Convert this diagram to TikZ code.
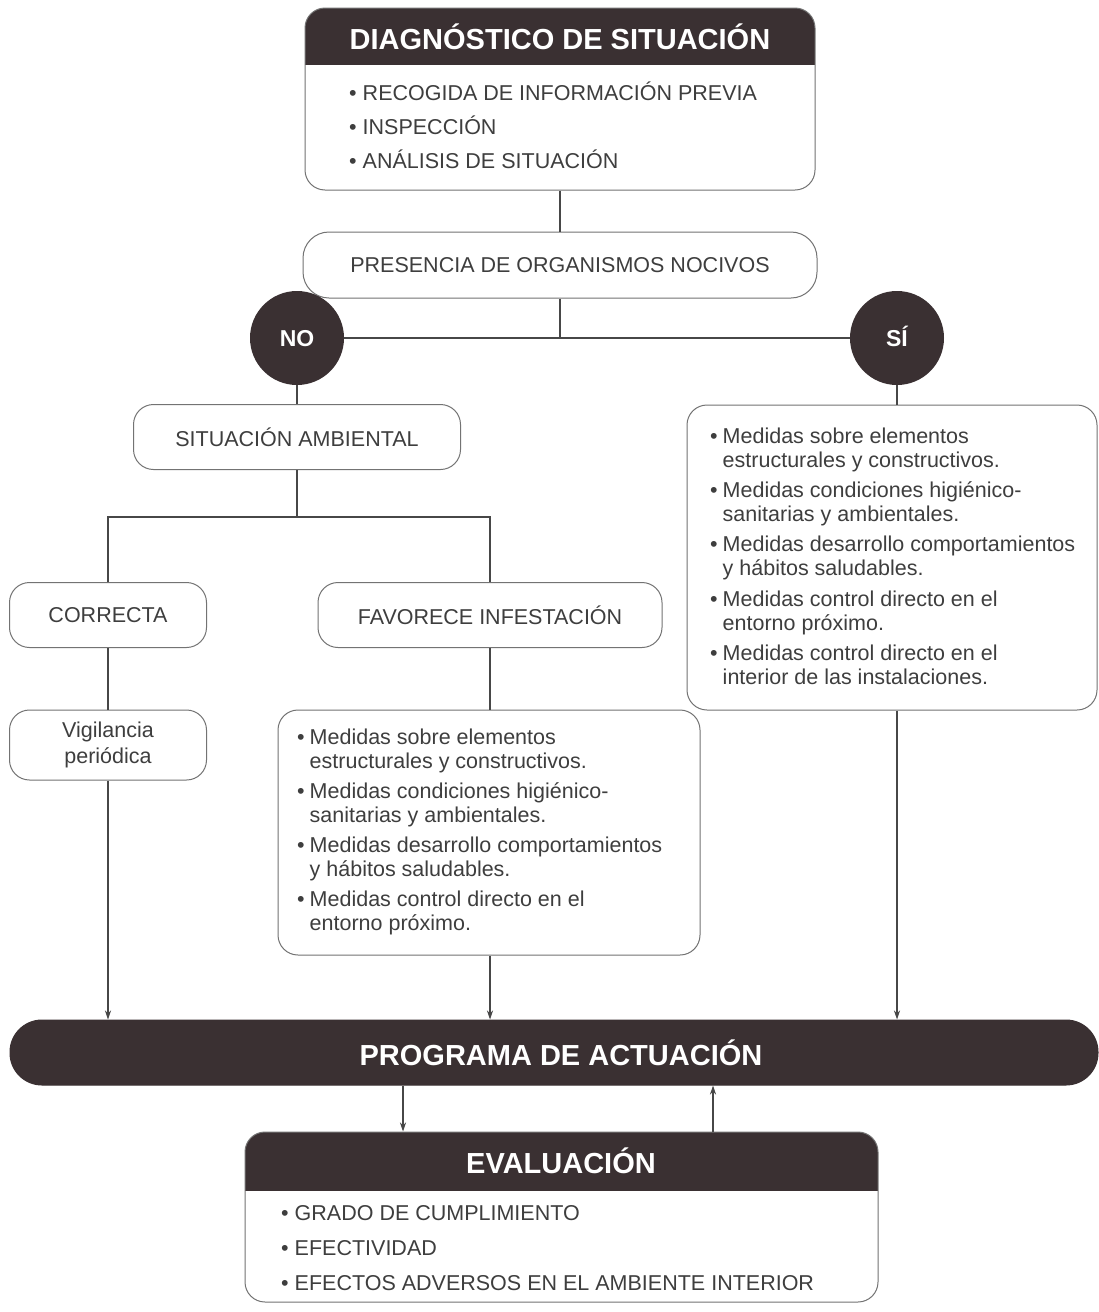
\documentclass[tikz,border=0pt]{standalone}
\usepackage{fontspec}
\setmainfont{Liberation Sans}
\usetikzlibrary{arrows.meta}
\definecolor{dark}{RGB}{58,48,50}
\definecolor{txt}{RGB}{62,62,62}
\definecolor{edge}{RGB}{115,115,115}
\begin{document}
\begin{tikzpicture}[x=1pt,y=-1pt,
  box/.style={draw=edge, line width=1pt, rounded corners=20pt, inner sep=0pt, text=txt,
    font=\fontsize{21.5}{26}\selectfont, align=center},
  head/.style={font=\fontsize{29}{32}\selectfont\bfseries, text=white, inner sep=0pt},
  yn/.style={circle, fill=dark, minimum size=94pt, inner sep=0pt, text=white,
    text height=16pt, text depth=0pt,
    font=\fontsize{23}{23}\selectfont\bfseries},
  listA/.style={anchor=north west, inner sep=0pt, text=txt, font=\fontsize{21.5}{34}\selectfont},
  listB/.style={anchor=north west, inner sep=0pt, text=txt, font=\fontsize{21.5}{24}\selectfont},
  listC/.style={anchor=north west, inner sep=0pt, text=txt, font=\fontsize{21.5}{35}\selectfont},
  conn/.style={draw=black!72, line width=1.2pt},
  arr/.style={conn, -{Stealth[length=9pt,width=6pt]}},
]
\useasboundingbox (0,0) rectangle (1099,1312);
\fill[white] (0,0) rectangle (1099,1312);

% ---- Diagnóstico
\begin{scope}
  \clip[rounded corners=20pt] (305,8) rectangle (815,190);
  \fill[dark] (305,8) rectangle (815,65);
\end{scope}
\node[box, minimum width=510pt, minimum height=182pt] (diag) at (560,99) {};
\node[head] (diagh) at (560,37) {DIAGNÓSTICO DE SITUACIÓN};
\node[listA] (diagl) at (349,76) {\begin{tabular}{@{}l@{\hspace{6pt}}l@{}}
• & RECOGIDA DE INFORMACIÓN PREVIA\\
• & INSPECCIÓN\\
• & ANÁLISIS DE SITUACIÓN\end{tabular}};

% ---- Presencia
\node[box, rounded corners=26pt, minimum width=514pt, minimum height=66pt] (pres) at (560,265) {PRESENCIA DE ORGANISMOS NOCIVOS};

\node[yn] (no) at (297,338) {NO};
\node[yn] (si) at (897,338) {SÍ};

% ---- NO branch
\node[box, minimum width=327pt, minimum height=65pt] (sit) at (297,437) {SITUACIÓN AMBIENTAL};
\coordinate (j2) at (297,517);
\node[box, minimum width=197pt, minimum height=65pt] (corr) at (108,615) {CORRECTA};
\node[box, minimum width=344pt, minimum height=65pt] (fav) at (490,615) {FAVORECE INFESTACIÓN};
\node[box, minimum width=197pt, minimum height=70pt] (vig) at (108,745) {Vigilancia\\periódica};

\node[box, minimum width=422pt, minimum height=245pt] (medbox) at (489,832.5) {};
\node[listB] (medl) at (297,727) {\begin{tabular}{@{}l@{\hspace{5pt}}l@{}}
• & Medidas sobre elementos\\
  & estructurales y constructivos.\\[6pt]
• & Medidas condiciones higiénico-\\
  & sanitarias y ambientales.\\[6pt]
• & Medidas desarrollo comportamientos\\
  & y hábitos saludables.\\[6pt]
• & Medidas control directo en el\\
  & entorno próximo.\end{tabular}};

% ---- SÍ branch
\node[box, minimum width=410pt, minimum height=305pt] (sibox) at (892,557.5) {};
\node[listB] (sil) at (710,426) {\begin{tabular}{@{}l@{\hspace{5pt}}l@{}}
• & Medidas sobre elementos\\
  & estructurales y constructivos.\\[6pt]
• & Medidas condiciones higiénico-\\
  & sanitarias y ambientales.\\[6pt]
• & Medidas desarrollo comportamientos\\
  & y hábitos saludables.\\[7pt]
• & Medidas control directo en el\\
  & entorno próximo.\\[6pt]
• & Medidas control directo en el\\
  & interior de las instalaciones.\end{tabular}};

% ---- Programa
\node[box, draw=dark, fill=dark, rounded corners=32pt, minimum width=1088pt, minimum height=65pt,
  text=white, font=\fontsize{29}{32}\selectfont\bfseries] (prog) at (554,1052.5) {\hspace*{14pt}PROGRAMA DE ACTUACIÓN};

% ---- Evaluación
\begin{scope}
  \clip[rounded corners=20pt] (245,1132) rectangle (878,1302);
  \fill[dark] (245,1132) rectangle (878,1191);
\end{scope}
\node[box, minimum width=633pt, minimum height=170pt] (eval) at (561.5,1217) {};
\node[head] (evalh) at (561,1161) {EVALUACIÓN};
\node[listC] (evall) at (281,1196) {\begin{tabular}{@{}l@{\hspace{6pt}}l@{}}
• & GRADO DE CUMPLIMIENTO\\
• & EFECTIVIDAD\\
• & EFECTOS ADVERSOS EN EL AMBIENTE INTERIOR\end{tabular}};

% ---- connectors
\draw[conn] (diag.south) -- (pres.north);
\draw[conn] (pres.south) -- (pres.south |- no.east);
\draw[conn] (no.east) -- (si.west);
\draw[conn] (no.south) -- (sit.north -| no.south);
\draw[conn] (si.south) -- (sibox.north -| si.south);
\draw[conn] (sit.south) -- (j2);
\draw[conn] (corr.north) |- (j2) -| (fav.north);
\draw[conn] (corr.south) -- (vig.north);
\draw[conn] (fav.south) -- (medbox.north -| fav.south);
\draw[arr] (vig.south) -- (prog.north -| vig.south);
\draw[arr] (medbox.south -| fav.south) -- (prog.north -| fav.south);
\draw[arr] (sibox.south -| si.south) -- (prog.north -| si.south);
\coordinate (a1) at (403,1100);
\coordinate (a2) at (713,1100);
\draw[arr] (prog.south -| a1) -- (eval.north -| a1);
\draw[arr] (eval.north -| a2) -- (prog.south -| a2);
\end{tikzpicture}
\end{document}
